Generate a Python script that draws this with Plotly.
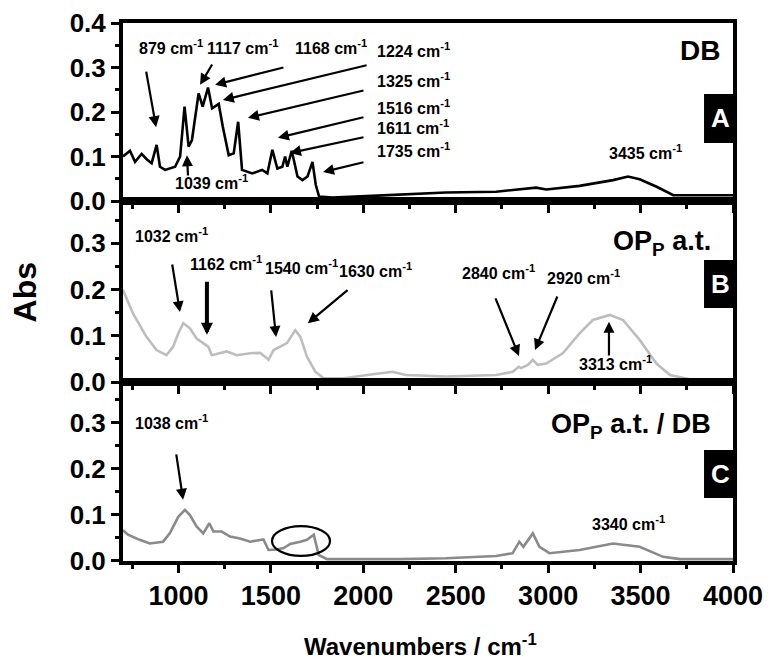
import plotly.graph_objects as go
from plotly.subplots import make_subplots

# ---------------- data ----------------
wn_db = [700, 738, 765, 801, 828, 855, 882, 900, 928, 982, 1009, 1033, 1055, 1073, 1109, 1131, 1160, 1182,
         1218, 1240, 1272, 1299, 1323, 1344, 1399, 1453, 1481, 1508, 1535, 1562, 1577, 1589, 1613, 1644,
         1671, 1698, 1725, 1743, 1761, 1834, 2015, 2196, 2447, 2718, 2935, 2990, 3170, 3351, 3432, 3495,
         3587, 3677, 3966, 4000]
abs_db = [0.100, 0.113, 0.088, 0.106, 0.094, 0.085, 0.126, 0.077, 0.070, 0.077, 0.100, 0.212, 0.122, 0.137,
          0.242, 0.212, 0.255, 0.208, 0.218, 0.167, 0.103, 0.107, 0.178, 0.070, 0.062, 0.070, 0.062, 0.115,
          0.073, 0.077, 0.100, 0.077, 0.113, 0.055, 0.047, 0.055, 0.088, 0.036, 0.010, 0.008, 0.011, 0.015,
          0.019, 0.021, 0.030, 0.026, 0.034, 0.047, 0.055, 0.049, 0.032, 0.013, 0.013, 0.013]

wn_op = [700, 754, 826, 881, 935, 971, 999, 1026, 1062, 1098, 1134, 1162, 1180, 1225, 1261, 1315, 1388, 1442,
         1487, 1515, 1551, 1587, 1632, 1659, 1695, 1741, 1786, 1894, 2021, 2157, 2230, 2447, 2718, 2808, 2841,
         2853, 2890, 2917, 2944, 2989, 3079, 3170, 3242, 3333, 3405, 3495, 3586, 3659, 3767, 4000]
abs_op = [0.199, 0.148, 0.098, 0.069, 0.058, 0.076, 0.105, 0.127, 0.116, 0.094, 0.084, 0.076, 0.058, 0.062,
          0.066, 0.058, 0.062, 0.063, 0.048, 0.069, 0.076, 0.084, 0.112, 0.098, 0.055, 0.022, 0.008, 0.008,
          0.015, 0.022, 0.015, 0.012, 0.015, 0.022, 0.033, 0.030, 0.037, 0.048, 0.037, 0.040, 0.062, 0.105,
          0.134, 0.145, 0.134, 0.091, 0.040, 0.015, 0.006, 0.004]

wn_opdb = [700, 727, 790, 845, 917, 953, 999, 1035, 1062, 1098, 1134, 1167, 1189, 1234, 1279, 1333, 1388, 1460,
           1487, 1532, 1569, 1605, 1659, 1695, 1732, 1759, 1804, 2202, 2447, 2718, 2808, 2844, 2866, 2917, 2953,
           3007, 3170, 3351, 3495, 3622, 3713, 4000]
abs_opdb = [0.067, 0.057, 0.046, 0.038, 0.042, 0.060, 0.096, 0.111, 0.100, 0.075, 0.060, 0.082, 0.064, 0.064,
            0.053, 0.049, 0.042, 0.047, 0.024, 0.025, 0.028, 0.037, 0.042, 0.046, 0.057, 0.013, 0.004, 0.004,
            0.006, 0.011, 0.017, 0.042, 0.031, 0.060, 0.031, 0.017, 0.024, 0.038, 0.031, 0.009, 0.004, 0.004]

x_ticks = [1000, 1500, 2000, 2500, 3000, 3500, 4000]
x_tick_labels = ["1000", "1500", "2000", "2500", "3000", "3500", "4000"]

# ---------------- figure ----------------
FONT = "Liberation Sans, Arial, sans-serif"
LBL = "Liberation Sans, Arial, sans-serif"

fig = make_subplots(rows=3, cols=1, shared_xaxes=True, vertical_spacing=0)
fig.add_trace(go.Scatter(x=wn_db, y=abs_db, mode="lines", line=dict(color="#000000", width=2.6)), row=1, col=1)
fig.add_trace(go.Scatter(x=wn_op, y=abs_op, mode="lines", line=dict(color="#bdbdbd", width=2.6)), row=2, col=1)
fig.add_trace(go.Scatter(x=wn_opdb, y=abs_opdb, mode="lines", line=dict(color="#8a8a8a", width=2.6)), row=3, col=1)

domains = {1: [0.6691, 1.0], 2: [0.3327, 0.6691], 3: [0.0, 0.3327]}
yranges = {1: [0, 0.4], 2: [0, 0.391], 3: [0, 0.389]}
for r in (1, 2, 3):
    fig.update_xaxes(row=r, col=1, range=[700, 4000], tickvals=x_ticks, ticktext=x_tick_labels,
                     showticklabels=(r == 3), ticks="outside", ticklen=8, tickwidth=3, tickcolor="black",
                     minor=dict(dtick=250, tick0=0, ticks="outside", ticklen=4, tickwidth=3, tickcolor="black"),
                     showline=True, linewidth=4, linecolor="black", mirror=True, showgrid=False,
                     zeroline=False, automargin=False,
                     tickfont=dict(family=FONT, size=27, color="black", weight="bold"))
    fig.update_yaxes(row=r, col=1, range=yranges[r], domain=domains[r], dtick=0.1, tick0=0, tickformat=".1f",
                     ticks="outside", ticklen=8, tickwidth=3, tickcolor="black",
                     minor=dict(dtick=0.05, tick0=0, ticks="outside", ticklen=4, tickwidth=3, tickcolor="black"),
                     showline=True, linewidth=4, linecolor="black", mirror=True, showgrid=False,
                     zeroline=False, automargin=False,
                     tickfont=dict(family=FONT, size=26, color="black", weight="bold"))

annotations = []
shapes = []

def label(text, x, y, xref, yref, anchor="left", size=16, family=LBL):
    annotations.append(dict(text=text, x=x, y=y, xref=xref, yref=yref, xanchor=anchor, yanchor="middle",
                            showarrow=False, font=dict(family=family, size=size, color="black", weight="bold")))

def arrow(x0, y0, x1, y1, xref, yref, width=2.2, size=1.0):
    annotations.append(dict(text="", x=x1, y=y1, ax=x0, ay=y0, xref=xref, yref=yref, axref=xref, ayref=yref,
                            showarrow=True, arrowhead=2, arrowsize=size, arrowwidth=width, arrowcolor="black",
                            standoff=0, startstandoff=0))

CM = " cm<sup>-1</sup>"
# Panel A
label("879" + CM, 776, 0.346, "x", "y")
arrow(824, 0.294, 879, 0.166, "x", "y")
label("1117" + CM, 1144, 0.346, "x", "y")
arrow(1187, 0.310, 1117, 0.261, "x", "y")
label("1168" + CM, 1620, 0.346, "x", "y")
arrow(1576, 0.301, 1198, 0.261, "x", "y")
label("1224" + CM, 2065, 0.339, "x", "y")
arrow(2026, 0.306, 1240, 0.227, "x", "y")
label("1325" + CM, 2065, 0.272, "x", "y")
arrow(2009, 0.249, 1376, 0.187, "x", "y")
label("1516" + CM, 2065, 0.211, "x", "y")
arrow(2009, 0.189, 1538, 0.142, "x", "y")
label("1611" + CM, 2065, 0.166, "x", "y")
arrow(2009, 0.144, 1603, 0.108, "x", "y")
label("1735" + CM, 2065, 0.115, "x", "y")
arrow(2009, 0.088, 1782, 0.065, "x", "y")
label("1039" + CM, 970, 0.043, "x", "y")
arrow(1052, 0.054, 1046, 0.103, "x", "y")
label("3435" + CM, 3318, 0.110, "x", "y")
label("DB", 3940, 0.339, "x", "y", anchor="right", size=28, family=FONT)

# Panel B
label("1032" + CM, 754, 0.317, "x2", "y2")
arrow(965, 0.257, 1008, 0.151, "x2", "y2")
label("1162" + CM, 1052, 0.257, "x2", "y2")
arrow(1154, 0.220, 1154, 0.102, "x2", "y2", width=4, size=0.6)
label("1540" + CM, 1457, 0.248, "x2", "y2")
arrow(1501, 0.201, 1528, 0.097, "x2", "y2")
label("1630" + CM, 1858, 0.242, "x2", "y2")
arrow(1923, 0.201, 1700, 0.127, "x2", "y2")
label("2840" + CM, 2523, 0.238, "x2", "y2")
arrow(2712, 0.184, 2842, 0.056, "x2", "y2")
label("2920" + CM, 2983, 0.227, "x2", "y2")
arrow(3053, 0.188, 2929, 0.069, "x2", "y2")
label("3313" + CM, 3156, 0.041, "x2", "y2")
arrow(3329, 0.054, 3329, 0.130, "x2", "y2")
label("OP<sub>P</sub> a.t.", 3892, 0.300, "x2", "y2", anchor="right", size=27, family=FONT)

# Panel C
label("1038" + CM, 754, 0.302, "x3", "y3")
arrow(987, 0.235, 1025, 0.133, "x3", "y3")
label("3340" + CM, 3226, 0.083, "x3", "y3")
label("OP<sub>P</sub> a.t. / DB", 3892, 0.294, "x3", "y3", anchor="right", size=27, family=FONT)
shapes.append(dict(type="circle", xref="x3", yref="y3", x0=1506, x1=1820, y0=0.011, y1=0.076,
                   line=dict(color="black", width=2.2)))

# Black letter boxes on the right edge
for letter, y0, y1 in (("A", 0.777, 0.868), ("B", 0.4703, 0.5595), ("C", 0.1171, 0.2063)):
    shapes.append(dict(type="rect", xref="paper", yref="paper", x0=0.9525, x1=1.0066, y0=y0, y1=y1,
                       fillcolor="black", line=dict(width=0)))
    annotations.append(dict(text=letter, x=0.9795, y=(y0 + y1) / 2, xref="paper", yref="paper",
                            xanchor="center", yanchor="middle", showarrow=False,
                            font=dict(family=FONT, size=26, color="white", weight="bold")))

# axis titles
annotations.append(dict(text="Abs", x=-0.16, y=0.5, xref="paper", yref="paper", xanchor="center",
                        yanchor="middle", showarrow=False, textangle=-90,
                        font=dict(family=FONT, size=32, color="black", weight="bold")))
annotations.append(dict(text="Wavenumbers / cm<sup>-1</sup>", x=0.487, y=-0.156, xref="paper", yref="paper",
                        xanchor="center", yanchor="middle", showarrow=False,
                        font=dict(family=FONT, size=24, color="black", weight="bold")))

# the page body adds an 8 px margin, so the figure is 8 px smaller on each axis
fig.update_layout(width=764, height=651, margin=dict(l=115, r=39, t=15, b=98, autoexpand=False),
                  paper_bgcolor="white", plot_bgcolor="white", showlegend=False,
                  annotations=annotations, shapes=shapes)

fig.write_html("out.html")
